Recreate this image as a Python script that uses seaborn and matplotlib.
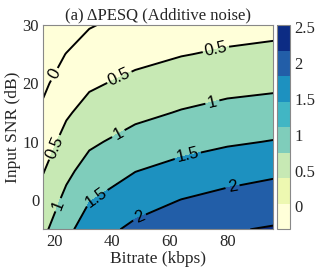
import numpy as np
import matplotlib
matplotlib.use('Agg')
import matplotlib.pyplot as plt
import seaborn as sns
from matplotlib.colors import ListedColormap, Normalize
from matplotlib.cm import ScalarMappable

# grid of the measurement
bitrate = [16, 24, 32, 48, 64, 80, 96]
snr = [-5, 0, 5, 10, 15, 20, 25, 30]

# delta PESQ, one row per input SNR (rows follow snr, columns follow bitrate)
delta_pesq = [
    [0.90, 1.36, 1.77, 2.11, 2.36, 2.47, 2.53],
    [0.69, 1.12, 1.48, 1.80, 2.01, 2.15, 2.30],
    [0.48, 0.89, 1.19, 1.49, 1.66, 1.80, 1.89],
    [0.28, 0.66, 0.92, 1.18, 1.33, 1.44, 1.52],
    [0.08, 0.44, 0.67, 0.88, 1.03, 1.14, 1.20],
    [-0.08, 0.22, 0.43, 0.62, 0.75, 0.85, 0.90],
    [-0.20, 0.01, 0.20, 0.36, 0.48, 0.56, 0.61],
    [-0.32, -0.20, -0.03, 0.15, 0.26, 0.32, 0.37],
]

line_levels = [0, 0.5, 1, 1.5, 2, 2.5]
cbar_ticks = [0, 0.5, 1, 1.5, 2, 2.5]

# YlGnBu, 8 classes
ylgnbu8 = ['#ffffd9', '#edf8b1', '#c7e9b4', '#7fcdbb',
           '#41b6c4', '#1d91c0', '#225ea8', '#0c2c84']

sns.set_style("ticks")
plt.rcParams['font.family'] = ['Liberation Serif', 'DejaVu Serif']
plt.rcParams['text.color'] = '#262626'
plt.rcParams['axes.labelcolor'] = '#262626'

X, Y = np.meshgrid(bitrate, snr)
Z = np.array(delta_pesq)
zmin, zmax = Z.min(), Z.max()
norm = Normalize(vmin=zmin, vmax=zmax)
cmap = ListedColormap(ylgnbu8)

# matlab-style fill: each band takes the colour of its lower level
fill_levels = [zmin - 1] + line_levels + [zmax + 1]
band_colors = [ylgnbu8[0]] + [cmap(norm(v)) for v in line_levels]

fig = plt.figure(figsize=(3.32, 2.75), dpi=100)
ax = fig.add_axes([0.1304, 0.166, 0.6928, 0.743])
cax = fig.add_axes([0.835, 0.166, 0.038, 0.743])

ax.contourf(X, Y, Z, levels=fill_levels, colors=band_colors)
cs = ax.contour(X, Y, Z, levels=line_levels, colors='k', linewidths=1.4)

label_pos = [(20.1, 21.5), (42.6, 20.9), (76.1, 25.7), (20.6, 8.9),
             (21.2, -0.8), (42, 11.5), (74.9, 16.6), (33.9, 0.9),
             (66.3, 7.5), (49.5, -3), (81.9, 2.1)]
labels = ax.clabel(cs, fmt='%g', fontsize=12, manual=label_pos, inline_spacing=3)
for t in labels:
    t.set_fontfamily('Liberation Sans')
    t.set_color('k')

ax.set_xlim(16, 96)
ax.set_ylim(-5, 30)
ax.set_xticks([20, 40, 60, 80])
ax.set_yticks([0, 10, 20, 30])
ax.tick_params(direction='in', length=3, width=0.6, color='#555555',
               labelsize=12, top=True, right=True, pad=3)
for s in ax.spines.values():
    s.set_color('#888888')
    s.set_linewidth(0.8)

ax.set_xlabel('Bitrate (kbps)', fontsize=12.5, labelpad=1)
ax.set_ylabel('Input SNR (dB)', fontsize=12.5, labelpad=1)
ax.set_title('(a) \u0394PESQ (Additive noise)', fontsize=12, pad=4)

cb = fig.colorbar(ScalarMappable(norm=norm, cmap=cmap), cax=cax, ticks=cbar_ticks)
cb.ax.set_yticklabels(['0', '0.5', '1', '1.5', '2', '2.5'])
cb.ax.tick_params(direction='in', length=2, width=0.6, color='#555555',
                  labelsize=12, pad=3)
cb.outline.set_edgecolor('#888888')
cb.outline.set_linewidth(0.8)

fig.savefig('out.png', dpi=100)
